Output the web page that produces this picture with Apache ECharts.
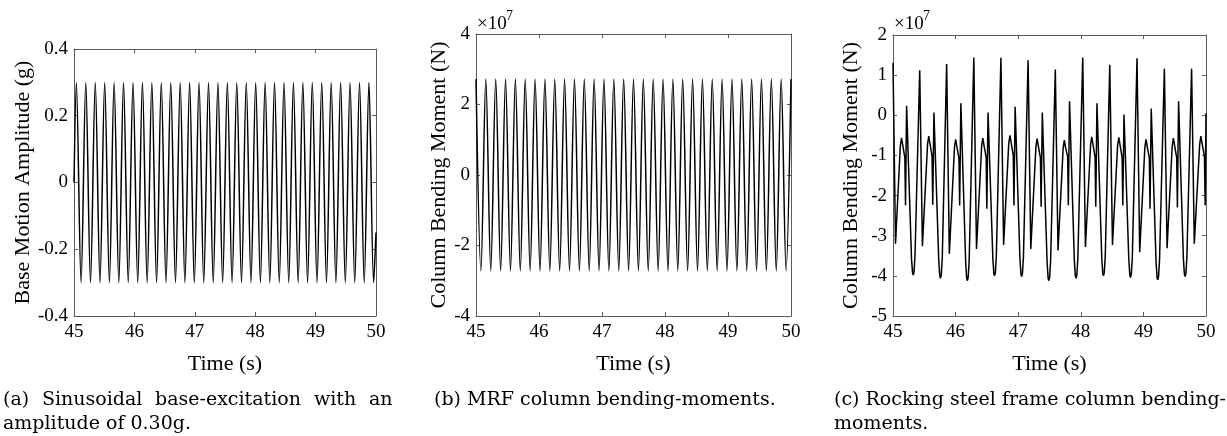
<!DOCTYPE html>
<html>
<head>
<meta charset="utf-8">
<script src="https://cdn.jsdelivr.net/npm/echarts@6/dist/echarts.min.js"></script>
<style>
html,body{margin:0;padding:0;background:#fff;}
#chart{width:1227px;height:436px;}
</style>
</head>
<body>
<div id="chart"></div>
<script>
// ---------------- DATA ----------------
const timeTicks = [45, 46, 47, 48, 49, 50];

// (a) base excitation: times of start, successive peaks/troughs, end (s)
const aTime = [45.000,
  45.039, 45.117, 45.195, 45.273, 45.352, 45.430, 45.508, 45.586, 45.664, 45.742,
  45.820, 45.898, 45.977, 46.055, 46.133, 46.211, 46.289, 46.367, 46.445, 46.523,
  46.602, 46.680, 46.758, 46.836, 46.914, 46.992, 47.070, 47.148, 47.227, 47.305,
  47.383, 47.461, 47.539, 47.617, 47.695, 47.773, 47.852, 47.930, 48.008, 48.086,
  48.164, 48.242, 48.320, 48.398, 48.477, 48.555, 48.633, 48.711, 48.789, 48.867,
  48.945, 49.023, 49.102, 49.180, 49.258, 49.336, 49.414, 49.492, 49.570, 49.648,
  49.727, 49.805, 49.883, 49.961, 50.000];
// amplitude (g)
const aAccel = [0.00,
  0.30, -0.30, 0.30, -0.30, 0.30, -0.30, 0.30, -0.30, 0.30, -0.30,
  0.30, -0.30, 0.30, -0.30, 0.30, -0.30, 0.30, -0.30, 0.30, -0.30,
  0.30, -0.30, 0.30, -0.30, 0.30, -0.30, 0.30, -0.30, 0.30, -0.30,
  0.30, -0.30, 0.30, -0.30, 0.30, -0.30, 0.30, -0.30, 0.30, -0.30,
  0.30, -0.30, 0.30, -0.30, 0.30, -0.30, 0.30, -0.30, 0.30, -0.30,
  0.30, -0.30, 0.30, -0.30, 0.30, -0.30, 0.30, -0.30, 0.30, -0.30,
  0.30, -0.30, 0.30, -0.30, -0.15];

// (b) MRF column moment: times of peaks/troughs (s)
const bTime = [
  45.000, 45.078, 45.156, 45.234, 45.313, 45.391, 45.469, 45.547, 45.625, 45.703,
  45.781, 45.859, 45.938, 46.016, 46.094, 46.172, 46.250, 46.328, 46.406, 46.484,
  46.563, 46.641, 46.719, 46.797, 46.875, 46.953, 47.031, 47.109, 47.188, 47.266,
  47.344, 47.422, 47.500, 47.578, 47.656, 47.734, 47.813, 47.891, 47.969, 48.047,
  48.125, 48.203, 48.281, 48.359, 48.438, 48.516, 48.594, 48.672, 48.750, 48.828,
  48.906, 48.984, 49.063, 49.141, 49.219, 49.297, 49.375, 49.453, 49.531, 49.609,
  49.688, 49.766, 49.844, 49.922, 50.000];
// moment (x 10^7 N)
const bMoment = [
  2.72, -2.72, 2.72, -2.72, 2.72, -2.72, 2.72, -2.72, 2.72, -2.72,
  2.72, -2.72, 2.72, -2.72, 2.72, -2.72, 2.72, -2.72, 2.72, -2.72,
  2.72, -2.72, 2.72, -2.72, 2.72, -2.72, 2.72, -2.72, 2.72, -2.72,
  2.72, -2.72, 2.72, -2.72, 2.72, -2.72, 2.72, -2.72, 2.72, -2.72,
  2.72, -2.72, 2.72, -2.72, 2.72, -2.72, 2.72, -2.72, 2.72, -2.72,
  2.72, -2.72, 2.72, -2.72, 2.72, -2.72, 2.72, -2.72, 2.72, -2.72,
  2.72, -2.72, 2.72, -2.72, 2.72];

// (c) rocking frame column moment: [time (s), moment (x 10^7 N)]
const cSamples = [
  [45.000, 1.30], [45.040, -3.20], [45.117, -0.76], [45.136, -0.56], [45.155, -0.74], [45.189, -1.05], [45.200, -2.24], [45.217, 0.24], [45.296, -3.58], [45.312, -3.92], [45.323, -3.98], [45.336, -3.90], [45.352, -3.48],
  [45.427, 1.12], [45.470, -3.26], [45.552, -0.72], [45.571, -0.52], [45.590, -0.70], [45.624, -1.02], [45.635, -2.23], [45.654, 0.07], [45.731, -3.62], [45.747, -4.00], [45.758, -4.06], [45.771, -3.98], [45.787, -3.56],
  [45.857, 1.28], [45.900, -3.45], [45.982, -0.80], [46.001, -0.60], [46.020, -0.78], [46.054, -1.08], [46.065, -2.25], [46.084, 0.30], [46.161, -3.66], [46.177, -4.06], [46.188, -4.12], [46.201, -4.04], [46.217, -3.62],
  [46.291, 1.44], [46.334, -3.33], [46.416, -0.77], [46.435, -0.57], [46.454, -0.75], [46.488, -1.05], [46.499, -2.33], [46.518, 0.07], [46.595, -3.56], [46.611, -3.94], [46.622, -4.00], [46.635, -3.92], [46.651, -3.50],
  [46.724, 1.43], [46.767, -3.23], [46.849, -0.70], [46.868, -0.50], [46.887, -0.68], [46.921, -1.00], [46.932, -2.25], [46.951, 0.21], [47.028, -3.58], [47.044, -3.96], [47.055, -4.02], [47.068, -3.94], [47.084, -3.52],
  [47.158, 1.37], [47.201, -3.33], [47.283, -0.78], [47.302, -0.58], [47.321, -0.76], [47.355, -1.06], [47.366, -2.28], [47.385, 0.07], [47.462, -3.66], [47.478, -4.06], [47.489, -4.12], [47.502, -4.04], [47.518, -3.62],
  [47.593, 1.14], [47.636, -3.37], [47.718, -0.82], [47.737, -0.62], [47.756, -0.80], [47.790, -1.03], [47.801, -2.24], [47.820, 0.35], [47.897, -3.62], [47.913, -4.00], [47.924, -4.06], [47.937, -3.98], [47.953, -3.56],
  [48.031, 1.44], [48.074, -3.28], [48.156, -0.74], [48.175, -0.54], [48.194, -0.72], [48.228, -1.04], [48.239, -2.28], [48.258, 0.30], [48.335, -3.56], [48.351, -3.94], [48.362, -4.00], [48.375, -3.92], [48.391, -3.50],
  [48.463, 1.26], [48.506, -3.23], [48.588, -0.75], [48.607, -0.55], [48.626, -0.73], [48.660, -1.05], [48.671, -2.25], [48.690, 0.02], [48.767, -3.60], [48.783, -3.98], [48.794, -4.04], [48.807, -3.96], [48.823, -3.54],
  [48.898, 1.42], [48.941, -3.41], [49.023, -0.80], [49.042, -0.60], [49.061, -0.78], [49.095, -1.07], [49.106, -2.33], [49.125, 0.17], [49.202, -3.64], [49.218, -4.04], [49.229, -4.10], [49.242, -4.02], [49.258, -3.60],
  [49.335, 1.16], [49.378, -3.31], [49.460, -0.77], [49.479, -0.57], [49.498, -0.75], [49.532, -1.06], [49.543, -2.30], [49.562, 0.35], [49.639, -3.58], [49.655, -3.96], [49.666, -4.02], [49.679, -3.94], [49.695, -3.52],
  [49.770, 1.16], [49.813, -3.20], [49.899, -0.72], [49.918, -0.52], [49.937, -0.70], [49.975, -1.02], [49.987, -2.24], [50.000, 0.05]
];

const xTitle = 'Time (s)';
const yTitles = ['Base Motion Amplitude (g)', 'Column Bending Moment (N)', 'Column Bending Moment (N)'];
const yRanges = [[-0.4, 0.4, 0.2], [-4, 4, 2], [-5, 2, 1]];
const captions = {
  a1: ['(a)', 'Sinusoidal', 'base-excitation', 'with', 'an'],
  a2: 'amplitude of 0.30g.',
  b1: '(b) MRF column bending-moments.',
  c1: '(c) Rocking steel frame column bending-',
  c2: 'moments.'
};

// ---------------- CHART ----------------
function zip(xs, ys) { return xs.map((x, i) => [x, ys[i]]); }
const SERIF = '"Liberation Serif", "Times New Roman", serif';
const CAP = '"DejaVu Serif", serif';
const AX = '#5a5a5a';

const grids = [
  {left: 74, top: 49, width: 302, height: 267},
  {left: 476, top: 34, width: 315, height: 282},
  {left: 893, top: 35, width: 313, height: 281}
];
const yNameGap = [37, 26, 31];

const xAxis = [], yAxis = [];
grids.forEach((g, i) => {
  const common = {
    gridIndex: i, type: 'value', min: timeTicks[0], max: timeTicks[timeTicks.length - 1], interval: 1,
    splitLine: {show: false},
    axisLine: {show: true, onZero: false, lineStyle: {color: AX, width: 1}},
    axisTick: {show: true, inside: true, length: 4, lineStyle: {color: AX, width: 1}}
  };
  xAxis.push(Object.assign({}, common, {
    position: 'bottom',
    axisLabel: {show: true, margin: 7, fontSize: 19, fontFamily: SERIF, color: '#000', showMinLabel: true, showMaxLabel: true},
    name: xTitle, nameLocation: 'middle', nameGap: 37,
    nameTextStyle: {fontSize: 22, fontFamily: SERIF, color: '#000'}
  }));
  xAxis.push(Object.assign({}, common, {position: 'top', axisLabel: {show: false}}));
  const [ymin, ymax, yint] = yRanges[i];
  const ycommon = {
    gridIndex: i, type: 'value', min: ymin, max: ymax, interval: yint,
    splitLine: {show: false},
    axisLine: {show: true, onZero: false, lineStyle: {color: AX, width: 1}},
    axisTick: {show: true, inside: true, length: 4, lineStyle: {color: AX, width: 1}}
  };
  yAxis.push(Object.assign({}, ycommon, {
    position: 'left',
    axisLabel: {show: true, margin: 6, fontSize: 19, fontFamily: SERIF, color: '#000', showMinLabel: true, showMaxLabel: true,
      formatter: v => (Math.abs(v) < 1e-9 ? '0' : String(+v.toFixed(1)))},
    name: yTitles[i], nameLocation: 'middle', nameGap: yNameGap[i], nameRotate: 90,
    nameTextStyle: {fontSize: 22, fontFamily: SERIF, color: '#000'}
  }));
  yAxis.push(Object.assign({}, ycommon, {position: 'right', axisLabel: {show: false}}));
});

const lineStyle = {color: '#000', width: 1.5};
const series = [
  {type: 'line', xAxisIndex: 0, yAxisIndex: 0, data: zip(aTime, aAccel), showSymbol: false, smooth: 0.32, lineStyle, animation: false},
  {type: 'line', xAxisIndex: 2, yAxisIndex: 2, data: zip(bTime, bMoment), showSymbol: false, smooth: 0.32, lineStyle, animation: false},
  {type: 'line', xAxisIndex: 4, yAxisIndex: 4, data: cSamples, showSymbol: false, smooth: false, lineStyle, animation: false}
];

function txt(x, y, s, size, font, align) {
  return {type: 'text', x: x, y: y, style: {text: s, fontSize: size, fontFamily: font, fill: '#000',
    textAlign: align || 'left', textVerticalAlign: 'middle'}};
}
const capSize = 19;
const aWordX = [3, 42, 155, 314, 369];
const graphic = [];
captions.a1.forEach((w, i) => graphic.push(txt(aWordX[i], 400, w, capSize, CAP)));
graphic.push(txt(3, 424, captions.a2, capSize, CAP));
graphic.push(txt(434, 400, captions.b1, capSize, CAP));
graphic.push(txt(834, 400, captions.c1, capSize, CAP));
graphic.push(txt(834, 424, captions.c2, capSize, CAP));
// x10^7 multipliers
[[477, 506], [894, 923]].forEach(p => {
  graphic.push(txt(p[0], 24, '×10', 19, SERIF));
  graphic.push(txt(p[1], 16, '7', 14, SERIF));
});

const chart = echarts.init(document.getElementById('chart'), null, {renderer: 'canvas'});
chart.setOption({
  animation: false,
  backgroundColor: '#fff',
  grid: grids.map(g => Object.assign({containLabel: false, outerBoundsMode: 'none'}, g)),
  xAxis, yAxis, series, graphic
});
</script>
</body>
</html>
